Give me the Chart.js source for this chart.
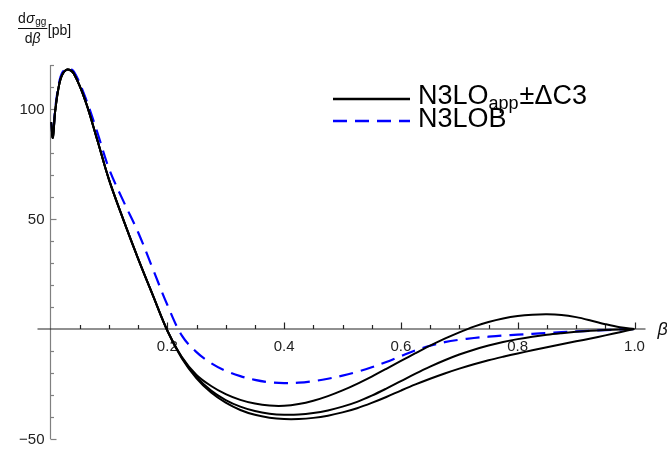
<!DOCTYPE html>
<html>
<head>
<meta charset="utf-8">
<script src="https://cdn.jsdelivr.net/npm/chart.js@4/dist/chart.umd.min.js"></script>
<style>
  html, body { margin: 0; background: #fff; }
  #wrap { width: 667px; height: 449px; }
</style>
</head>
<body>
<div id="wrap"><canvas id="sigmaChart" width="667" height="449"></canvas></div>
<script>
// beta values (x) shared by all curves
const beta = [0.001, 0.004, 0.008, 0.014, 0.02, 0.029, 0.04, 0.06, 0.08, 0.1, 0.125, 0.15, 0.175,
  0.2, 0.225, 0.25, 0.275, 0.3, 0.325, 0.35, 0.375, 0.4, 0.425, 0.45, 0.475, 0.5, 0.525, 0.55, 0.575,
  0.6, 0.625, 0.65, 0.675, 0.7, 0.725, 0.75, 0.775, 0.8, 0.825, 0.85, 0.875, 0.9, 0.925, 0.95, 0.975, 1.0];

// N3LO_app + dC3 / central / - dC3 (black)
const n3loUpper = [94, 87, 99, 110, 115.5, 118, 116, 103.5, 86, 68, 49.5, 32, 15.5,
  -0.6, -12.8, -20.9, -25.9, -29.6, -32.2, -33.9, -34.8, -34.9, -34.1, -32.6, -30.5, -27.9, -24.9, -21.6, -18.1,
  -14.5, -11, -7.6, -4.4, -1.5, 1.1, 3.2, 4.8, 5.9, 6.5, 6.7, 6.4, 5.4, 3.9, 2.2, 0.8, 0];
const n3loMid = [94, 87, 99, 110, 115.5, 118, 116, 103.5, 86, 68, 49.5, 32, 15.5,
  -0.7, -13, -21.8, -28, -32.3, -35.3, -37.3, -38.5, -39, -38.9, -38.2, -37, -35.3, -33.1, -30.3, -27.1,
  -23.7, -20.3, -17.1, -14.2, -11.6, -9.4, -7.5, -5.9, -4.6, -3.5, -2.6, -1.9, -1.3, -0.8, -0.45, -0.18, 0];
const n3loLower = [94, 87, 99, 110, 115.5, 118, 116, 103.5, 86, 68, 49.5, 32, 15.5,
  -0.8, -13.4, -22.4, -28.9, -33.5, -36.8, -39, -40.3, -40.9, -40.9, -40.4, -39.4, -37.9, -36, -33.6, -30.9,
  -28, -25.2, -22.6, -20.2, -18, -16, -14.2, -12.6, -11.1, -9.7, -8.3, -6.9, -5.6, -4.3, -2.9, -1.45, 0];

// N3LOB (blue dashed)
const n3loB = [94, 88, 100, 111, 116.5, 118.5, 117, 105, 89.5, 73, 58, 44, 27.5,
  11, -3, -10.5, -15.5, -19, -21.4, -23.1, -24.2, -24.6, -24.4, -23.7, -22.6, -21.2, -19.5, -17.4, -15,
  -12.3, -9.7, -7.6, -6, -4.9, -4.1, -3.5, -3, -2.6, -2.2, -1.8, -1.45, -1.1, -0.8, -0.5, -0.2, 0];

// ticks
const xMajorTicks = [0.2, 0.4, 0.6, 0.8, 1.0];
const xTickLabels = ["0.2", "0.4", "0.6", "0.8", "1.0"];
const yMajorTicks = [-50, 50, 100];
const yTickLabels = ["\u221250", "50", "100"];

const FONT = "'Liberation Sans', Arial, sans-serif";

function toPoints(ys) {
  return beta.map((b, i) => ({ x: b, y: ys[i] }));
}

// axes in the Mathematica style: crossing at the origin, ticks pointing inwards
const axesPlugin = {
  id: "mmaAxes",
  beforeDatasetsDraw(chart) {
    const c = chart.ctx;
    const xs = chart.scales.x, ys = chart.scales.y;
    const x0 = xs.getPixelForValue(0), y0 = ys.getPixelForValue(0);
    c.save();

    // y axis
    c.strokeStyle = "#808080";
    c.lineWidth = 1.2;
    c.beginPath();
    c.moveTo(x0, ys.getPixelForValue(-50));
    c.lineTo(x0, ys.getPixelForValue(120));
    c.stroke();
    for (let v = -50; v <= 120; v += 10) {
      if (v === 0) continue;
      const py = Math.round(ys.getPixelForValue(v)) + 0.5;
      const len = v % 50 === 0 ? 6 : 3.5;
      c.beginPath();
      c.moveTo(x0, py);
      c.lineTo(x0 + len, py);
      c.stroke();
    }

    // x axis
    c.strokeStyle = "#222";
    c.lineWidth = 1.2;
    c.beginPath();
    c.moveTo(x0 - 13, y0);
    c.lineTo(xs.getPixelForValue(1) + 11, y0);
    c.stroke();
    for (let k = 1; k <= 20; k++) {
      const b = k * 0.05;
      const px = Math.round(xs.getPixelForValue(b)) + 0.5;
      const len = k % 4 === 0 ? 6.5 : 4;
      c.beginPath();
      c.moveTo(px, y0);
      c.lineTo(px, y0 - len);
      c.stroke();
    }

    // tick labels
    c.fillStyle = "#222";
    c.font = "15px " + FONT;
    c.textAlign = "center";
    c.textBaseline = "alphabetic";
    xMajorTicks.forEach((b, i) => {
      c.fillText(xTickLabels[i], xs.getPixelForValue(b), y0 + 22);
    });
    c.textAlign = "right";
    c.textBaseline = "middle";
    yMajorTicks.forEach((v, i) => {
      c.fillText(yTickLabels[i], x0 - 6, ys.getPixelForValue(v) + 1);
    });
    c.restore();
  },
  afterDraw(chart) {
    const c = chart.ctx;
    const xs = chart.scales.x, ys = chart.scales.y;
    const y0 = ys.getPixelForValue(0);
    c.save();
    c.fillStyle = "#111";
    c.textAlign = "left";

    // axis label beta
    c.font = "italic 18px " + FONT;
    c.textBaseline = "middle";
    c.fillText("\u03b2", xs.getPixelForValue(1) + 23, y0 + 1);

    // y label: d sigma_gg / d beta [pb]
    c.textBaseline = "alphabetic";
    let x = 18;
    c.font = "14px " + FONT;
    c.fillText("d", x, 23); x += c.measureText("d").width + 0.5;
    c.font = "italic 14px " + FONT;
    c.fillText("\u03c3", x, 23); x += c.measureText("\u03c3").width + 0.5;
    c.font = "10px " + FONT;
    c.fillText("gg", x, 25); x += c.measureText("gg").width;
    c.strokeStyle = "#111";
    c.lineWidth = 1;
    c.beginPath();
    c.moveTo(18, 28.5);
    c.lineTo(x + 1, 28.5);
    c.stroke();
    const mid = (18 + x + 1) / 2;
    c.font = "14px " + FONT;
    const wd = c.measureText("d").width;
    c.font = "italic 14px " + FONT;
    const wb = c.measureText("\u03b2").width;
    const dx = mid - (wd + wb) / 2;
    c.font = "14px " + FONT;
    c.fillText("d", dx, 43);
    c.font = "italic 14px " + FONT;
    c.fillText("\u03b2", dx + wd, 43);
    c.font = "14px " + FONT;
    c.fillText("[pb]", x + 1.5, 35);

    // legend
    c.lineWidth = 2.5;
    c.strokeStyle = "#000";
    c.beginPath();
    c.moveTo(333, 99);
    c.lineTo(410, 99);
    c.stroke();
    c.strokeStyle = "#0000ff";
    c.setLineDash([14, 8]);
    c.beginPath();
    c.moveTo(333, 121);
    c.lineTo(410, 121);
    c.stroke();
    c.setLineDash([]);

    c.fillStyle = "#000";
    let lx = 418;
    c.font = "27px " + FONT;
    c.fillText("N3LO", lx, 104); lx += c.measureText("N3LO").width;
    c.font = "18px " + FONT;
    c.fillText("app", lx, 109); lx += c.measureText("app").width + 1;
    c.font = "27px " + FONT;
    c.fillText("\u00b1\u0394C3", lx, 104);
    c.fillText("N3LOB", 418, 127);
    c.restore();
  }
};

const ctx = document.getElementById("sigmaChart").getContext("2d");
new Chart(ctx, {
  type: "line",
  data: {
    datasets: [
      { label: "N3LO_app + dC3", data: toPoints(n3loUpper), borderColor: "#000", borderWidth: 2 },
      { label: "N3LO_app", data: toPoints(n3loMid), borderColor: "#000", borderWidth: 2 },
      { label: "N3LO_app - dC3", data: toPoints(n3loLower), borderColor: "#000", borderWidth: 2 },
      { label: "N3LOB", data: toPoints(n3loB), borderColor: "#0000ff", borderWidth: 2.2, borderDash: [14, 8] }
    ]
  },
  options: {
    responsive: false,
    animation: false,
    layout: { padding: { left: 50.5, right: 32.5, top: 65, bottom: 10 } },
    elements: {
      point: { radius: 0 },
      line: { tension: 0.35, fill: false, borderCapStyle: "butt" }
    },
    scales: {
      x: { type: "linear", min: 0, max: 1, display: false },
      y: { type: "linear", min: -50, max: 120, display: false }
    },
    plugins: {
      legend: { display: false },
      tooltip: { enabled: false }
    }
  },
  plugins: [axesPlugin]
});
</script>
</body>
</html>
